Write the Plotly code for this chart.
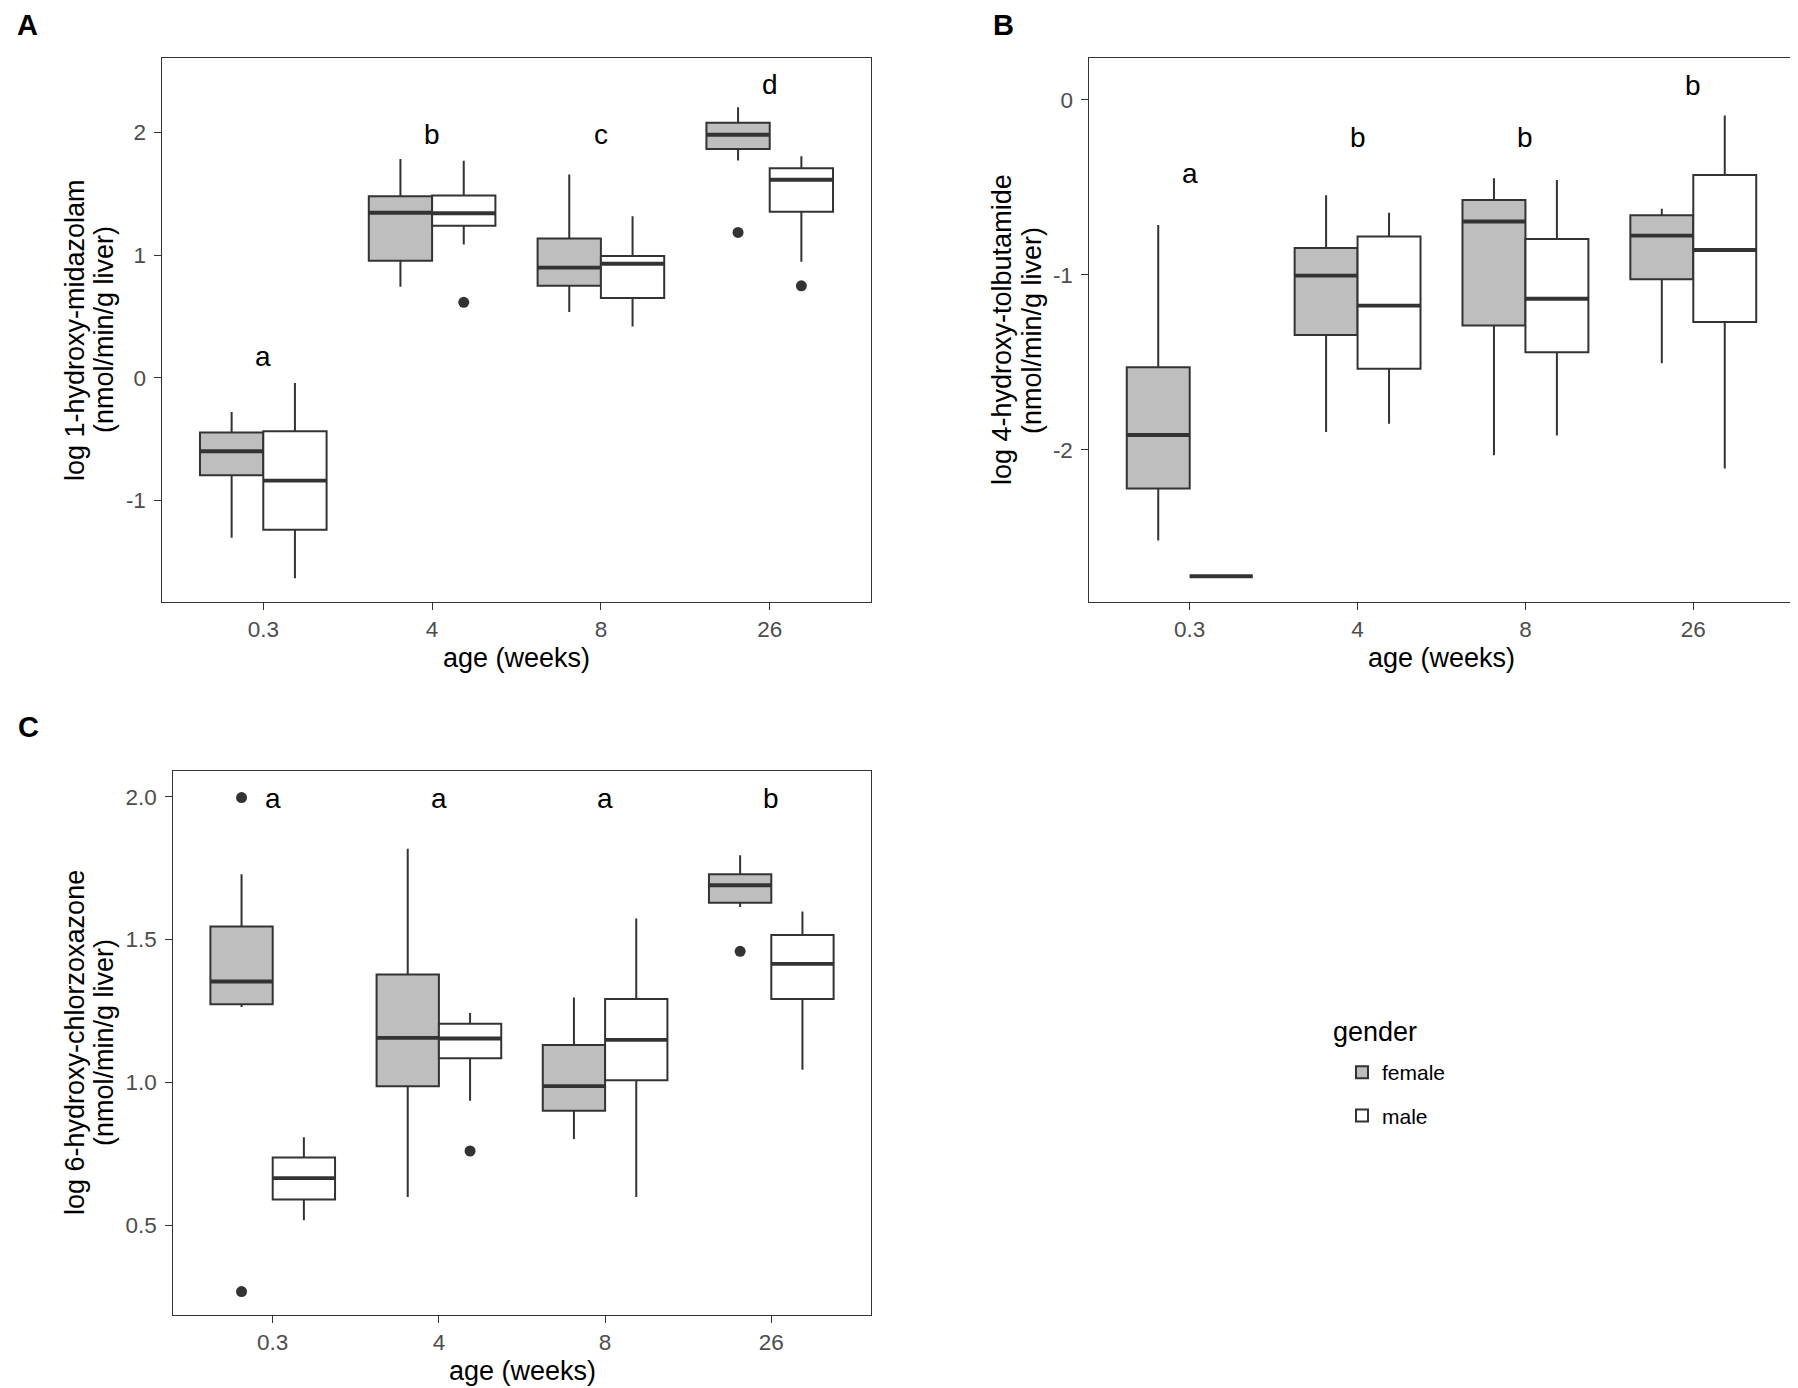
import plotly.graph_objects as go

# ---------------- data ----------------
AGES = ["0.3", "4", "8", "26"]
GENDERS = ["female", "male"]

# Panel A: log 1-hydroxy-midazolam
A_f_low = [-1.305, 0.742, 0.535, 1.771]
A_f_q1 = [-0.796, 0.953, 0.749, 1.865]
A_f_med = [-0.600, 1.345, 0.898, 1.982]
A_f_q3 = [-0.447, 1.480, 1.135, 2.080]
A_f_high = [-0.280, 1.785, 1.658, 2.207]
A_f_out_age = ["26"]
A_f_out_val = [1.185]
A_m_low = [-1.636, 1.087, 0.418, 0.945]
A_m_q1 = [-1.240, 1.240, 0.651, 1.353]
A_m_med = [-0.840, 1.342, 0.930, 1.615]
A_m_q3 = [-0.436, 1.487, 0.993, 1.709]
A_m_high = [-0.044, 1.770, 1.316, 1.807]
A_m_out_age = ["4", "26"]
A_m_out_val = [0.615, 0.749]
A_letters = ["a", "b", "c", "d"]
A_letter_y = [0.175, 1.985, 1.985, 2.389]

# Panel B: log 4-hydroxy-tolbutamide
B_f_low = [-2.519, -1.898, -2.031, -1.506]
B_f_q1 = [-2.221, -1.344, -1.290, -1.025]
B_f_med = [-1.916, -1.005, -0.695, -0.776]
B_f_q3 = [-1.529, -0.847, -0.573, -0.659]
B_f_high = [-0.715, -0.545, -0.448, -0.623]
B_f_out_age = []
B_f_out_val = []
B_m_low = [-2.723, -1.852, -1.919, -2.107]
B_m_q1 = [-2.723, -1.537, -1.443, -1.270]
B_m_med = [-2.723, -1.176, -1.137, -0.858]
B_m_q3 = [-2.723, -0.781, -0.796, -0.430]
B_m_high = [-2.723, -0.646, -0.458, -0.089]
B_m_out_age = []
B_m_out_val = []
B_letters = ["a", "b", "b", "b"]
B_letter_y = [-0.420, -0.216, -0.216, 0.081]

# Panel C: log 6-hydroxy-chlorzoxazone
C_f_low = [1.264, 0.599, 0.802, 1.614]
C_f_q1 = [1.274, 0.987, 0.901, 1.629]
C_f_med = [1.353, 1.156, 0.987, 1.690]
C_f_q3 = [1.546, 1.378, 1.131, 1.729]
C_f_high = [1.729, 1.818, 1.297, 1.795]
C_f_out_age = ["0.3", "0.3", "26"]
C_f_out_val = [1.997, 0.268, 1.459]
C_m_low = [0.518, 0.936, 0.599, 1.044]
C_m_q1 = [0.590, 1.085, 1.008, 1.292]
C_m_med = [0.665, 1.154, 1.149, 1.415]
C_m_q3 = [0.737, 1.205, 1.292, 1.516]
C_m_high = [0.808, 1.243, 1.574, 1.598]
C_m_out_age = ["4"]
C_m_out_val = [0.760]
C_letters = ["a", "a", "a", "b"]
C_letter_y = [1.994, 1.994, 1.994, 1.994]

A_ticks = [-1, 0, 1, 2]
A_ticktext = ["-1", "0", "1", "2"]
B_ticks = [-2, -1, 0]
B_ticktext = ["-2", "-1", "0"]
C_ticks = [0.5, 1.0, 1.5, 2.0]
C_ticktext = ["0.5", "1.0", "1.5", "2.0"]

A_title = ["log 1-hydroxy-midazolam", "(nmol/min/g liver)"]
B_title = ["log 4-hydroxy-tolbutamide", "(nmol/min/g liver)"]
C_title = ["log 6-hydroxy-chlorzoxazone", "(nmol/min/g liver)"]
X_TITLE = "age (weeks)"
LEGEND_TITLE = "gender"

# ---------------- style ----------------
PAGE_OFF = 8           # default page body margin
W, H = 1790, 1380      # figure size (page 1798x1388 minus body margin)
FONT = "Arial, 'Liberation Sans', sans-serif"
INK = "#333333"
FILL = {"female": "#BEBEBE", "male": "#FFFFFF"}
DODGE = 0.75
BW = DODGE / 2
OFFSET = {"female": -BW / 2, "male": BW / 2}

# panel frames in page pixels: (left, right, top, bottom)
FRAMES = {
    "A": (162, 871, 58, 602),
    "B": (1089, 1794, 58, 602),
    "C": (173, 871, 771, 1315),
}
YTITLE_X = {"A": (75, 104), "B": (1002, 1032), "C": (75, 104)}
YRANGES = {"A": [-1.83, 2.608], "B": [-2.87, 0.239], "C": [0.186, 2.09]}


def px(x):
    return (x - PAGE_OFF) / W


def py(y):
    return 1 - (y - PAGE_OFF) / H


panels = {
    "A": dict(
        female=(A_f_low, A_f_q1, A_f_med, A_f_q3, A_f_high, A_f_out_age, A_f_out_val),
        male=(A_m_low, A_m_q1, A_m_med, A_m_q3, A_m_high, A_m_out_age, A_m_out_val),
        letters=A_letters, letter_y=A_letter_y, ticks=A_ticks, ticktext=A_ticktext,
        title=A_title, axis=("x", "y"),
    ),
    "B": dict(
        female=(B_f_low, B_f_q1, B_f_med, B_f_q3, B_f_high, B_f_out_age, B_f_out_val),
        male=(B_m_low, B_m_q1, B_m_med, B_m_q3, B_m_high, B_m_out_age, B_m_out_val),
        letters=B_letters, letter_y=B_letter_y, ticks=B_ticks, ticktext=B_ticktext,
        title=B_title, axis=("x2", "y2"),
    ),
    "C": dict(
        female=(C_f_low, C_f_q1, C_f_med, C_f_q3, C_f_high, C_f_out_age, C_f_out_val),
        male=(C_m_low, C_m_q1, C_m_med, C_m_q3, C_m_high, C_m_out_age, C_m_out_val),
        letters=C_letters, letter_y=C_letter_y, ticks=C_ticks, ticktext=C_ticktext,
        title=C_title, axis=("x3", "y3"),
    ),
}

fig = go.Figure()
annotations = []
idx = {a: i for i, a in enumerate(AGES)}

for key, p in panels.items():
    xa, ya = p["axis"]
    for g in GENDERS:
        low, q1, med, q3, high, oage, oval = p[g]
        xs = [i + OFFSET[g] for i in range(len(AGES))]
        fig.add_trace(go.Box(
            x=xs, q1=q1, median=med, q3=q3, lowerfence=low, upperfence=high,
            width=BW, orientation="v", boxpoints=False, whiskerwidth=0,
            fillcolor=FILL[g], line=dict(color=INK, width=2.0),
            name=g, legendgroup=g, showlegend=(key == "A"),
            xaxis=xa, yaxis=ya, hoverinfo="skip",
        ))
        # thick median line (ggplot fatten)
        mx, my = [], []
        for x, m in zip(xs, med):
            mx += [x - BW / 2, x + BW / 2, None]
            my += [m, m, None]
        fig.add_trace(go.Scatter(
            x=mx, y=my, mode="lines", line=dict(color=INK, width=3.9),
            showlegend=False, xaxis=xa, yaxis=ya, hoverinfo="skip",
        ))
        if oval:
            fig.add_trace(go.Scatter(
                x=[idx[a] + OFFSET[g] for a in oage], y=oval, mode="markers",
                marker=dict(color=INK, size=11, line=dict(width=0)),
                showlegend=False, xaxis=xa, yaxis=ya, hoverinfo="skip",
            ))
    # significance letters
    for i, (lt, ly) in enumerate(zip(p["letters"], p["letter_y"])):
        annotations.append(dict(
            x=i, y=ly, xref=xa, yref=ya, text=lt, showarrow=False,
            font=dict(family=FONT, size=28, color="black"),
            xanchor="center", yanchor="middle",
        ))

    l, r, t, b = FRAMES[key]
    axis_common = dict(
        showline=True, mirror=True, linecolor=INK, linewidth=1.2,
        showgrid=False, zeroline=False, ticks="outside", ticklen=6.5,
        tickwidth=1.3, tickcolor=INK,
        tickfont=dict(family=FONT, size=22.5, color="#4D4D4D"),
    )
    xname = "xaxis" if xa == "x" else "xaxis" + xa[1:]
    yname = "yaxis" if ya == "y" else "yaxis" + ya[1:]
    fig.layout[xname] = dict(
        domain=[px(l), px(r)], anchor=ya, range=[-0.6, len(AGES) - 0.4],
        tickvals=list(range(len(AGES))), ticktext=AGES, ticklabelstandoff=0,
        **axis_common,
    )
    fig.layout[yname] = dict(
        domain=[py(b), py(t)], anchor=xa, range=YRANGES[key],
        tickvals=p["ticks"], ticktext=p["ticktext"], ticklabelstandoff=4,
        **axis_common,
    )
    # axis titles
    annotations.append(dict(
        x=px((l + r) / 2), y=py(b + 56), xref="paper", yref="paper",
        text=X_TITLE, showarrow=False, xanchor="center", yanchor="middle",
        font=dict(family=FONT, size=27, color="black"),
    ))
    for k, line in enumerate(p["title"]):
        annotations.append(dict(
            x=px(YTITLE_X[key][k]), y=py((t + b) / 2), xref="paper", yref="paper",
            text=line, showarrow=False, textangle=-90,
            xanchor="center", yanchor="middle",
            font=dict(family=FONT, size=27, color="black"),
        ))

# panel tags
for tag, (tx, ty) in {"A": (27.5, 25), "B": (1003, 25), "C": (28, 727)}.items():
    annotations.append(dict(
        x=px(tx), y=py(ty), xref="paper", yref="paper", text="<b>" + tag + "</b>",
        showarrow=False, xanchor="center", yanchor="middle",
        font=dict(family=FONT, size=29, color="black"),
    ))

# legend title
annotations.append(dict(
    x=px(1331), y=py(1032), xref="paper", yref="paper", text=LEGEND_TITLE,
    showarrow=False, xanchor="left", yanchor="middle",
    font=dict(family=FONT, size=27, color="black"),
))

fig.update_layout(
    width=W, height=H, margin=dict(l=0, r=0, t=0, b=0),
    paper_bgcolor="white", plot_bgcolor="white",
    annotations=annotations, showlegend=True,
    legend=dict(
        x=px(1342), y=py(1052), xanchor="left", yanchor="top",
        font=dict(family=FONT, size=21, color="black"),
        bgcolor="rgba(0,0,0,0)", borderwidth=0, tracegroupgap=13,
    ),
)

fig.write_html("out.html")
